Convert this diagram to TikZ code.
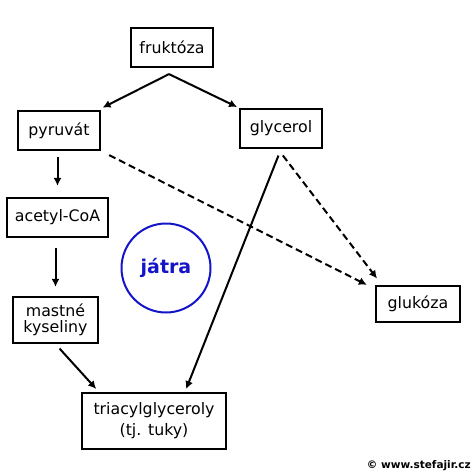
\documentclass[tikz,border=0pt]{standalone}
\usepackage{fontspec}
\setmainfont{DejaVu Sans}
\usetikzlibrary{arrows.meta}
\definecolor{jblue}{RGB}{20,20,200}
\tikzset{
  box/.style={draw, line width=2.2pt, inner sep=0pt, minimum width=#1, font=\fontsize{15.8}{18}\selectfont, align=center},
  arr/.style={line width=2pt, -{Latex[length=8pt,width=8pt]}},
  darr/.style={arr, dash pattern=on 7pt off 4pt}
}
\begin{document}
\begin{tikzpicture}[x=1pt,y=-1pt]
\useasboundingbox (0,0) rectangle (474,476);
\node[box=82pt, minimum height=39pt] (fruk) at (172,47.5) {fruktóza};
\node[box=82pt, minimum height=39pt] (pyr) at (59,130.5) {pyruvát};
\node[box=82pt, minimum height=39pt] (gly) at (281,128.5) {glycerol};
\node[box=101pt, minimum height=39pt] (acet) at (57.5,217.5) {acetyl-CoA};
\node[box=85pt, minimum height=46pt] (mast) at (55.5,320) {mastné\\[-2pt]kyseliny};
\node[box=84pt, minimum height=36pt] (gluk) at (418,304) {glukóza};
\node[box=144pt, minimum height=56pt] (tag) at (154,421) {triacylglyceroly\\[3pt](tj. tuky)};
\node[draw=jblue, line width=2pt, circle, minimum size=89pt, inner sep=0pt, text=jblue, font=\fontsize{19}{22}\selectfont\bfseries] (jat) at (166,268) {játra};
\node[anchor=east, inner sep=0pt, font=\fontsize{10.5}{12}\selectfont\bfseries] (copy) at (471,466) {© www.stefajir.cz};

\coordinate (fs) at ([xshift=-3pt,yshift=-6pt]fruk.south);
\draw[arr, shorten >=5pt] (fs) -- ([xshift=-3pt]pyr.north east);
\draw[arr, shorten >=2pt] (fs) -- (gly.north west);
\draw[arr, shorten <=6pt, shorten >=11pt] (pyr.south -| acet.north) -- (acet.north);
\draw[arr, shorten <=10pt, shorten >=9pt] (acet.south -| mast.north) -- (mast.north);
\draw[arr, shorten <=6pt, shorten >=4pt] (mast.south) -- ([xshift=18pt]tag.north west);
\draw[arr, shorten <=7pt, shorten >=3pt] (gly.south) -- ([xshift=31pt]tag.north);
\draw[darr, shorten <=9pt, shorten >=9pt] (pyr.south east) -- ([yshift=-4pt]gluk.north west);
\draw[darr, shorten <=8pt, shorten >=8pt] ([xshift=-3pt]gly.south) -- ([xshift=7pt]gluk.north west);
\end{tikzpicture}
\end{document}
